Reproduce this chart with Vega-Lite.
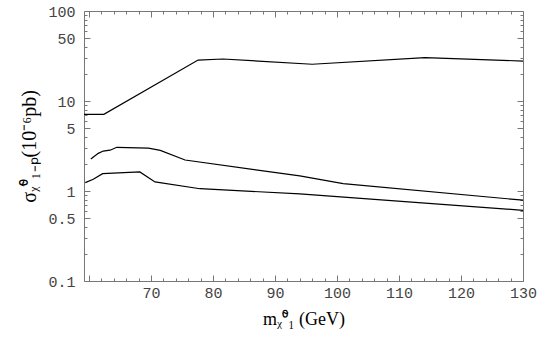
{
  "$schema": "https://vega.github.io/schema/vega-lite/v6.json",
  "width": 439,
  "height": 270,
  "autosize": {"type": "none"},
  "padding": {"left": 84, "top": 11, "right": 22, "bottom": 65},
  "background": "white",
  "config": {
    "view": {"stroke": "#777777", "strokeWidth": 1},
    "axis": {"domain": false, "grid": false, "tickColor": "#777777", "tickWidth": 1,
             "labelFont": "Liberation Mono", "labelFontSize": 15, "labelColor": "#444444",
             "titleFont": "Liberation Serif", "titleFontWeight": "normal", "titleColor": "#000000"}
  },
  "data": {"values": [
    {"series": "top", "m": 59.2, "sigma": 7.1},
    {"series": "top", "m": 62.4, "sigma": 7.1},
    {"series": "top", "m": 77.6, "sigma": 28.5},
    {"series": "top", "m": 81.6, "sigma": 29.3},
    {"series": "top", "m": 96.0, "sigma": 25.6},
    {"series": "top", "m": 114.2, "sigma": 30.3},
    {"series": "top", "m": 130.0, "sigma": 27.8},
    {"series": "mid", "m": 60.3, "sigma": 2.27},
    {"series": "mid", "m": 61.5, "sigma": 2.62},
    {"series": "mid", "m": 62.3, "sigma": 2.78},
    {"series": "mid", "m": 63.4, "sigma": 2.84},
    {"series": "mid", "m": 64.5, "sigma": 3.06},
    {"series": "mid", "m": 69.6, "sigma": 3.0},
    {"series": "mid", "m": 71.5, "sigma": 2.83},
    {"series": "mid", "m": 75.5, "sigma": 2.21},
    {"series": "mid", "m": 94.0, "sigma": 1.47},
    {"series": "mid", "m": 101.0, "sigma": 1.21},
    {"series": "mid", "m": 130.0, "sigma": 0.79},
    {"series": "low", "m": 59.4, "sigma": 1.24},
    {"series": "low", "m": 60.7, "sigma": 1.35},
    {"series": "low", "m": 62.2, "sigma": 1.56},
    {"series": "low", "m": 68.2, "sigma": 1.63},
    {"series": "low", "m": 70.65, "sigma": 1.26},
    {"series": "low", "m": 77.9, "sigma": 1.06},
    {"series": "low", "m": 94.0, "sigma": 0.93},
    {"series": "low", "m": 130.0, "sigma": 0.61}
  ]},
  "layer": [
    {
      "mark": {"type": "line", "color": "black", "strokeWidth": 1.2},
      "encoding": {
        "x": {"field": "m", "type": "quantitative",
              "scale": {"domain": [59.2, 130], "nice": false, "zero": false},
              "axis": {"orient": "bottom", "values": [60, 70, 80, 90, 100, 110, 120, 130],
                       "labelExpr": "datum.value == 60 ? '' : datum.label",
                       "tickSize": -6, "labelPadding": 10, "labelFlush": false,
                       "title": "mᵪ̃⁰₁ (GeV)", "titleFontSize": 18, "titlePadding": 10}},
        "y": {"field": "sigma", "type": "quantitative",
              "scale": {"type": "log", "domain": [0.1, 100], "nice": false},
              "axis": {"orient": "left", "values": [0.1, 0.5, 1, 5, 10, 50, 100], "format": "~g",
                       "tickSize": -6, "labelPadding": 15, "labelFlush": false,
                       "title": "σᵪ̃⁰₁₋ₚ(10⁻⁶pb)", "titleFontSize": 20, "titlePadding": 8}},
        "detail": {"field": "series"}
      }
    },
    {
      "mark": {"type": "line", "strokeOpacity": 0},
      "encoding": {
        "x": {"field": "m", "type": "quantitative",
              "axis": {"orient": "bottom", "values": [60, 62, 64, 66, 68, 72, 74, 76, 78, 82, 84, 86, 88, 92, 94, 96, 98, 102, 104, 106, 108, 112, 114, 116, 118, 122, 124, 126, 128],
                       "tickSize": -3, "labels": false, "title": null}},
        "y": {"field": "sigma", "type": "quantitative",
              "axis": {"orient": "left", "values": [0.2, 0.3, 0.4, 0.6, 0.7, 0.8, 0.9, 2, 3, 4, 6, 7, 8, 9, 20, 30, 40, 60, 70, 80, 90],
                       "tickSize": -3, "labels": false, "title": null}},
        "detail": {"field": "series"}
      }
    },
    {
      "mark": {"type": "line", "strokeOpacity": 0},
      "encoding": {
        "x": {"field": "m", "type": "quantitative",
              "axis": {"orient": "top", "values": [60, 70, 80, 90, 100, 110, 120, 130],
                       "tickSize": -6, "labels": false, "title": null}},
        "y": {"field": "sigma", "type": "quantitative",
              "axis": {"orient": "right", "values": [0.1, 0.5, 1, 5, 10, 50, 100],
                       "tickSize": -6, "labels": false, "title": null}},
        "detail": {"field": "series"}
      }
    },
    {
      "mark": {"type": "line", "strokeOpacity": 0},
      "encoding": {
        "x": {"field": "m", "type": "quantitative",
              "axis": {"orient": "top", "values": [60, 62, 64, 66, 68, 72, 74, 76, 78, 82, 84, 86, 88, 92, 94, 96, 98, 102, 104, 106, 108, 112, 114, 116, 118, 122, 124, 126, 128],
                       "tickSize": -3, "labels": false, "title": null}},
        "y": {"field": "sigma", "type": "quantitative",
              "axis": {"orient": "right", "values": [0.2, 0.3, 0.4, 0.6, 0.7, 0.8, 0.9, 2, 3, 4, 6, 7, 8, 9, 20, 30, 40, 60, 70, 80, 90],
                       "tickSize": -3, "labels": false, "title": null}},
        "detail": {"field": "series"}
      }
    }
  ],
  "resolve": {"axis": {"x": "independent", "y": "independent"}}
}
